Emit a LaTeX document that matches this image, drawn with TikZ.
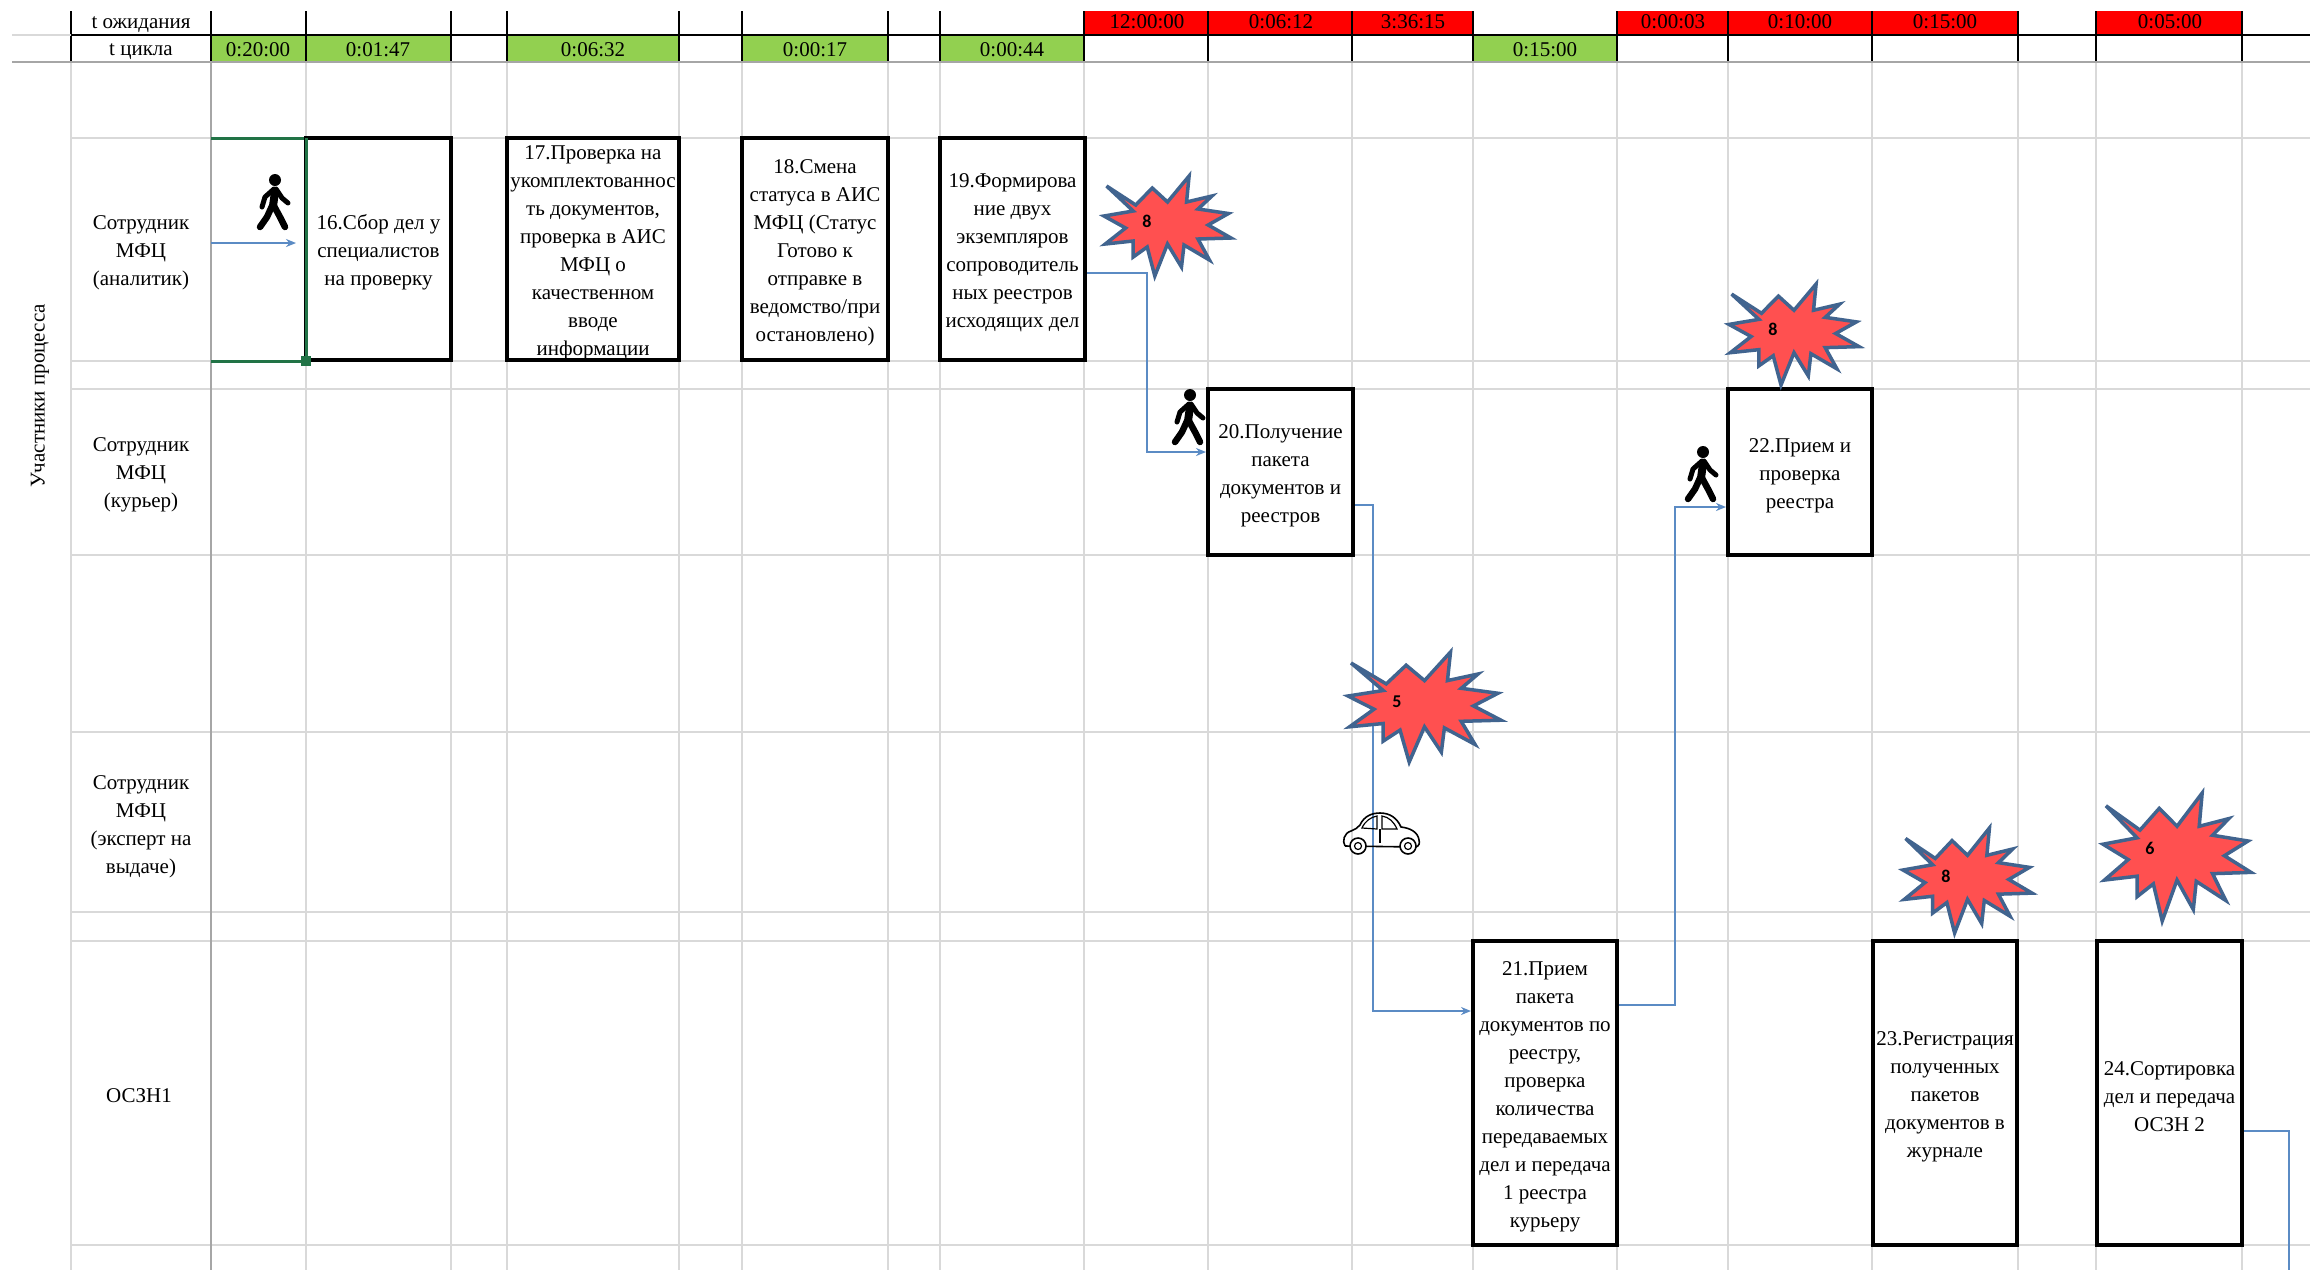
\documentclass[tikz,border=0pt]{standalone}
\usepackage{fontspec}
\setmainfont{Liberation Serif}
\newfontfamily\starfont{Carlito}
\usetikzlibrary{arrows.meta}
\definecolor{gridc}{HTML}{D9D9D9}
\definecolor{hdrgrey}{HTML}{A6A6A6}
\definecolor{cyc}{HTML}{92D050}
\definecolor{selgreen}{HTML}{217346}
\definecolor{conn}{HTML}{5B8BC4}
\definecolor{starfill}{HTML}{FF5050}
\definecolor{starline}{HTML}{41648F}
\newcommand{\nudge}{\mbox{}\\[-6pt]}
\tikzset{
 x=1pt,y=-1pt,
 txt/.style={font=\fontsize{21}{28}\selectfont,align=center,inner sep=0pt},
 procbox/.style={txt,draw=black,line width=4pt,fill=white,inner sep=0pt},
 gridline/.style={draw=gridc,line width=2pt},
 hdrline/.style={draw=black,line width=1.6pt},
 link/.style={draw=conn,line width=2pt,rounded corners=0pt},
 arrowed/.style={link,-{Stealth[length=10pt,width=8pt]}},
 starlabel/.style={font=\starfont\bfseries\fontsize{18}{18}\selectfont,inner sep=0pt},
 starshape/.style={fill=starfill,draw=starline,line width=3.5pt,line join=miter,miter limit=5},
 walker/.pic={
  \fill[black] (18,6) circle (6);
  \draw[black,line width=8pt,line cap=round,line join=round] (18,18) -- (16,32);
  \draw[black,line width=5pt,line cap=round,line join=round] (17,15) -- (8,23) -- (5,33);
  \draw[black,line width=5pt,line cap=round,line join=round] (19,15) -- (25,24) -- (31,29);
  \draw[black,line width=6.5pt,line cap=round,line join=round] (15,32) -- (10,43) -- (3,53);
  \draw[black,line width=6.5pt,line cap=round,line join=round] (17,32) -- (23,43) -- (28,53);
 },
 carpic/.pic={
  \draw[black,line width=1.6pt,line join=round]
   (3,33) .. controls (0,28) and (2,20) .. (9,18)
   .. controls (13,16) and (16,15) .. (18,12)
   .. controls (22,3) and (30,0) .. (38,0)
   .. controls (48,0) and (55,5) .. (59,14)
   .. controls (68,15) and (76,19) .. (77,27)
   .. controls (78,30) and (77,33) .. (74,34) -- (3,33);
  \draw[black,line width=1.2pt] (20,15) .. controls (23,8) and (29,4) .. (35,3) -- (35,16) -- cycle;
  \draw[black,line width=1.2pt] (40,3) .. controls (47,4) and (52,9) .. (55,16) -- (40,16) -- cycle;
  \draw[black,line width=1.2pt] (38,16) -- (38,30);
  \foreach \cx in {16,66}{
   \draw[black,line width=1.6pt,fill=white] (\cx,33) circle (8);
   \draw[black,line width=1.2pt] (\cx,33) circle (3.5);
  }
 },
}
\newcommand{\burst}[5]{%
 \draw[starshape]
  \foreach \u/\v [count=\i] in {0.02/0.10,0.25/0.29,0.38/0.12,0.50/0.26,0.67/0,0.65/0.26,0.85/0.20,0.74/0.33,0.98/0.375,0.82/0.49,1/0.62,0.74/0.63,0.83/0.84,0.63/0.69,0.61/0.91,0.50/0.68,0.40/1,0.34/0.71,0.23/0.81,0.23/0.65,0.01/0.68,0.17/0.52,0/0.40,0.23/0.35}{
   \ifnum\i=1 ({#2+4+\u*(#4-8)},{#3+3+\v*(#5-6)}) \else -- ({#2+4+\u*(#4-8)},{#3+3+\v*(#5-6)}) \fi
  } -- cycle;
}
\begin{document}
\begin{tikzpicture}
\useasboundingbox (0,0) rectangle (2310,1270);
\fill[white] (0,0) rectangle (2310,1270);
% header fills
\foreach \a/\b in {211/306,306/451,507/679,742/888,940/1084,1473/1617}
  \fill[cyc] (\a,35) rectangle (\b,62);
\foreach \a/\b in {1084/1208,1208/1352,1352/1473,1618/1728,1728/1872,1872/2018,2096/2242}
  \fill[red] (\a,11) rectangle (\b,35);
% grid
\foreach \xx in {71,306,451,507,679,742,888,940,1084,1208,1352,1473,1617,1728,1872,2018,2096,2242}
  \draw[gridline] (\xx,62) -- (\xx,1270);
\foreach \yy in {138,361,389,555,732,912,941,1245}
  \draw[gridline] (71,\yy) -- (2310,\yy);
\draw[draw=hdrgrey,line width=2pt] (211,62) -- (211,1270);
% header lines
\foreach \xx in {71,211,306,451,507,679,742,888,940,1084,1208,1352,1473,1617,1728,1872,2018,2096,2242}
  \draw[hdrline] (\xx,11) -- (\xx,62);
\draw[gridline] (12,35) -- (71,35);
\draw[hdrline] (71,35) -- (2310,35);
\draw[draw=hdrgrey,line width=2.4pt] (12,62) -- (2310,62);
% header texts
\node[txt] (tw) at (141,25) {t ожидания};
\node[txt] (tc) at (141,52) {t цикла};
\node[txt] (h1) at (258,50) {0:20:00};
\node[txt] (h2) at (378,50) {0:01:47};
\node[txt] (h3) at (593,50) {0:06:32};
\node[txt] (h4) at (815,50) {0:00:17};
\node[txt] (h5) at (1012,50) {0:00:44};
\node[txt] (h6) at (1545,50) {0:15:00};
\node[txt] (w1) at (1147,22) {12:00:00};
\node[txt] (w2) at (1281,22) {0:06:12};
\node[txt] (w3) at (1413,22) {3:36:15};
\node[txt] (w4) at (1673,22) {0:00:03};
\node[txt] (w5) at (1800,22) {0:10:00};
\node[txt] (w6) at (1945,22) {0:15:00};
\node[txt] (w7) at (2170,22) {0:05:00};
% side labels
\node[txt,rotate=90] (part) at (40,396) {Участники процесса};
\node[txt] (l1) at (141,253) {Сотрудник\\МФЦ\\(аналитик)};
\node[txt] (l2) at (141,475) {Сотрудник\\МФЦ\\(курьер)};
\node[txt] (l3) at (141,827) {Сотрудник\\МФЦ\\(эксперт на\\выдаче)};
\node[txt] (l4) at (139,1096) {ОСЗН1};
% selection
\draw[selgreen,line width=3pt] (211,138) -- (306,138);
\draw[selgreen,line width=3pt] (211,361) -- (306,361);
\coordinate (a0) at (211,243);
\coordinate (a1) at (296,243);
\coordinate (a5) at (2289,1270);
% boxes
\node[procbox,minimum width=145pt,minimum height=222pt] (b16) at (378.5,249) {\nudge 16.Сбор дел у\\специалистов\\на проверку};
\node[procbox,minimum width=172pt,minimum height=222pt] (b17) at (593,249) {\nudge 17.Проверка на\\укомплектованнос\\ть документов,\\проверка в АИС\\МФЦ о\\качественном\\вводе\\информации};
\node[procbox,minimum width=146pt,minimum height=222pt] (b18) at (815,249) {\nudge 18.Смена\\статуса в АИС\\МФЦ (Статус\\Готово к\\отправке в\\ведомство/при\\остановлено)};
\node[procbox,minimum width=145pt,minimum height=222pt] (b19) at (1012.5,249) {\nudge 19.Формирова\\ние двух\\экземпляров\\сопроводитель\\ных реестров\\исходящих дел};
\node[procbox,minimum width=145pt,minimum height=166pt] (b20) at (1280.5,472) {\nudge 20.Получение\\пакета\\документов и\\реестров};
\node[procbox,minimum width=144pt,minimum height=166pt] (b22) at (1800,472) {\nudge 22.Прием и\\проверка\\реестра};
\node[procbox,minimum width=144pt,minimum height=304pt] (b21) at (1545,1093) {\nudge 21.Прием\\пакета\\документов по\\реестру,\\проверка\\количества\\передаваемых\\дел и передача\\1 реестра\\курьеру};
\node[procbox,minimum width=144pt,minimum height=304pt] (b23) at (1945,1093) {\nudge 23.Регистрация\\полученных\\пакетов\\документов в\\журнале};
\node[procbox,minimum width=145pt,minimum height=304pt] (b24) at (2169.5,1093) {\nudge 24.Сортировка\\дел  и передача\\ОСЗН 2};
% selection right edge and handle
\draw[selgreen,line width=3pt] (306,138) -- (306,361);
\fill[selgreen] (301,356) rectangle (311,366);
% connectors
\draw[arrowed] (a0) -- (a1);
\draw[arrowed] (b19.east |- 0,273) -| (1147,452) -- (b20.west |- 0,452);
\draw[arrowed] (b20.east |- 0,505) -| (1373,1011) -- (b21.west |- 0,1011);
\draw[arrowed] (b21.east |- 0,1005) -| (1675,507) -- (b22.west |- 0,507);
\draw[link] (b24.east |- 0,1131) -| (a5);
% bursts
\burst{s1}{1100}{173}{135}{106}
\node[starlabel] (s1) at (1147,221) {8};
\burst{s2}{1725}{281}{138}{107}
\node[starlabel] (s2) at (1773,329) {8};
\burst{s3}{1344}{649}{161}{116}
\node[starlabel] (s3) at (1397,702) {5};
\burst{s4}{1899}{825}{137}{111}
\node[starlabel] (s4) at (1946,876) {8};
\burst{s5}{2099}{790}{156}{134}
\node[starlabel] (s5) at (2150,848) {6};
% icons
\pic at (257,174) {walker};
\pic at (1172,389) {walker};
\pic at (1685,446) {walker};
\pic at (1342,813) {carpic};
\end{tikzpicture}
\end{document}
